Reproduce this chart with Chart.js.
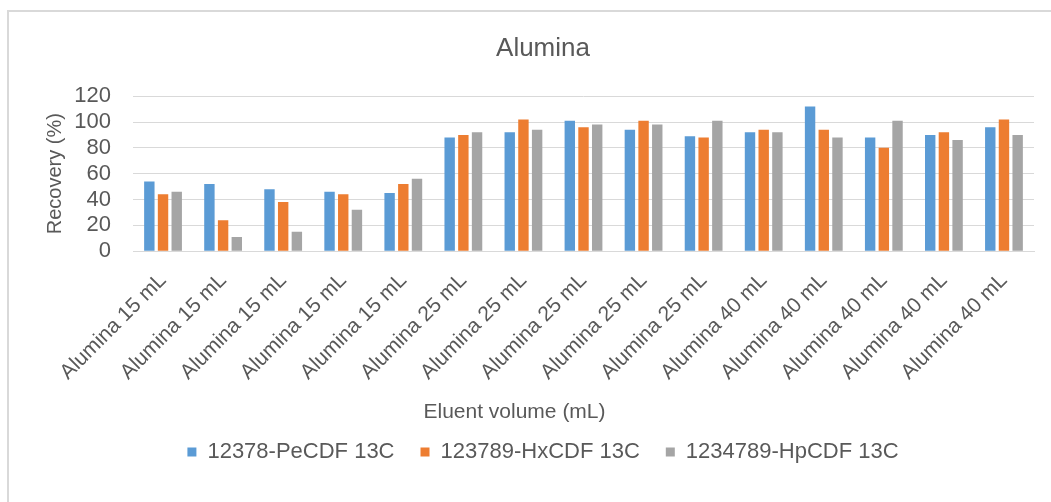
<!DOCTYPE html>
<html>
<head>
<meta charset="utf-8">
<script src="https://cdn.jsdelivr.net/npm/chart.js@4.4.1/dist/chart.umd.min.js"></script>
<style>
  html, body { margin: 0; padding: 0; background: #ffffff; overflow: hidden; width: 1051px; height: 502px; }
  #frame { position: absolute; left: 7px; top: 10px; width: 1100px; height: 560px; border: 2px solid #d9d9d9; box-sizing: border-box; }
  #c { position: absolute; left: 0; top: 0; }
</style>
</head>
<body>
<div id="frame"><canvas id="c" width="1054" height="481"></canvas></div>
<script>
const categories = [
  'Alumina 15 mL','Alumina 15 mL','Alumina 15 mL','Alumina 15 mL','Alumina 15 mL',
  'Alumina 25 mL','Alumina 25 mL','Alumina 25 mL','Alumina 25 mL','Alumina 25 mL',
  'Alumina 40 mL','Alumina 40 mL','Alumina 40 mL','Alumina 40 mL','Alumina 40 mL'
];
const seriesNames = ['12378-PeCDF 13C', '123789-HxCDF 13C', '1234789-HpCDF 13C'];
const peCDF = [54, 52, 48, 46, 45, 88, 92, 101, 94, 89, 92, 112, 88, 90, 96];
const hxCDF = [44, 24, 38, 44, 52, 90, 102, 96, 101, 88, 94, 94, 80, 92, 102];
const hpCDF = [46, 11, 15, 32, 56, 92, 94, 98, 98, 101, 92, 88, 101, 86, 90];
const yTicks = [0, 20, 40, 60, 80, 100, 120];
const chartTitle = 'Alumina';
const xTitle = 'Eluent volume (mL)';
const yTitle = 'Recovery (%)';

const colors = ['#5b9bd5', '#ed7d31', '#a5a5a5'];
const textColor = '#595959';
const FONT = "'Liberation Sans', Arial, sans-serif";

// Axis titles drawn as canvas text (Excel places them off-centre)
const axisTitlePlugin = {
  id: 'axisTitlePlugin',
  afterDraw(chart) {
    const ctx = chart.ctx;
    const ca = chart.chartArea;
    const lg = chart.legend;
    const hb = lg.legendHitBoxes[0];
    const legendMid = hb.top + hb.height / 2;
    ctx.save();
    ctx.fillStyle = textColor;
    ctx.textAlign = 'center';
    ctx.textBaseline = 'middle';
    ctx.font = '21px ' + FONT;
    ctx.fillText(xTitle, (ca.left + ca.right) / 2 - 69, legendMid - 40);
    ctx.translate(ca.left - 78, (ca.top + ca.bottom) / 2);
    ctx.rotate(-Math.PI / 2);
    ctx.font = '20px ' + FONT;
    ctx.fillText(yTitle, 0, 0);
    ctx.restore();
  }
};

const ds = [peCDF, hxCDF, hpCDF].map((d, i) => ({
  label: seriesNames[i],
  data: d,
  backgroundColor: colors[i],
  borderWidth: 0,
  categoryPercentage: 0.684,
  barPercentage: 0.76
}));

new Chart(document.getElementById('c'), {
  type: 'bar',
  data: { labels: categories, datasets: ds },
  options: {
    responsive: false,
    animation: false,
    devicePixelRatio: 1,
    layout: { padding: { left: 43, right: 29, top: 11, bottom: 20 } },
    plugins: {
      title: {
        display: true,
        text: chartTitle,
        color: textColor,
        font: { family: FONT, size: 26, weight: 'normal' },
        padding: { top: 10, bottom: 32 }
      },
      legend: {
        position: 'bottom',
        labels: {
          color: textColor,
          font: { family: FONT, size: 22 },
          boxWidth: 9,
          boxHeight: 9,
          padding: 26
        }
      },
      tooltip: { enabled: false }
    },
    scales: {
      x: {
        grid: { display: false, drawTicks: false },
        border: { display: true, color: '#d9d9d9', width: 1 },
        ticks: {
          color: textColor,
          font: { family: FONT, size: 21 },
          maxRotation: 45,
          minRotation: 45,
          padding: 17,
          autoSkip: false
        },
        afterFit(scale) { scale.paddingLeft = 0; scale.paddingRight = 0; scale.height += 13; },
        title: { display: false }
      },
      y: {
        min: 0,
        max: 120,
        afterBuildTicks(scale) { scale.ticks = yTicks.map(v => ({ value: v })); },
        afterFit(scale) { scale.width = 81; },
        grid: { color: '#d9d9d9', lineWidth: 1, drawTicks: false },
        border: { display: false },
        ticks: {
          color: textColor,
          font: { family: FONT, size: 22 },
          padding: 22,
          autoSkip: false
        },
        title: { display: false }
      }
    }
  },
  plugins: [axisTitlePlugin]
});
</script>
</body>
</html>
